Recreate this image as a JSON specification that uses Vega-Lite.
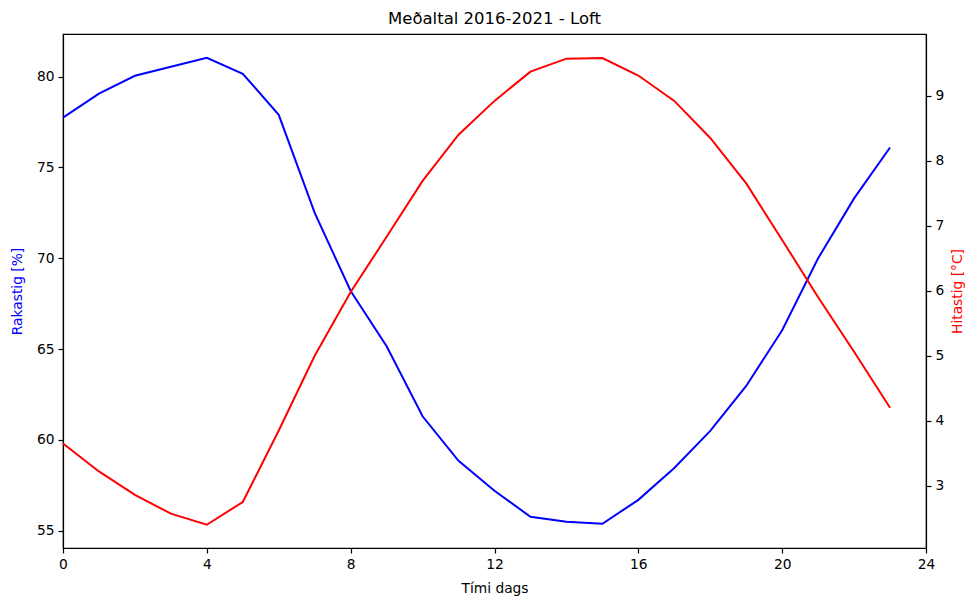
{
  "$schema": "https://vega.github.io/schema/vega-lite/v6.json",
  "width": 863,
  "height": 514,
  "autosize": {"type": "none"},
  "padding": {"left": 63, "top": 34, "right": 42, "bottom": 53},
  "background": "white",
  "title": {"text": "Meðaltal 2016-2021 - Loft", "font": "DejaVu Sans", "fontSize": 16.5, "fontWeight": "normal", "color": "black", "offset": 7},
  "config": {
    "font": "DejaVu Sans",
    "view": {"stroke": "black", "strokeWidth": 1.2},
    "axis": {
      "grid": false,
      "domainColor": "black",
      "domainWidth": 1.2,
      "tickColor": "black",
      "tickSize": 5,
      "tickWidth": 1.2,
      "labelFont": "DejaVu Sans",
      "labelFontSize": 13.8,
      "labelColor": "black",
      "labelPadding": 4,
      "labelFlush": false,
      "titleFont": "DejaVu Sans",
      "titleFontSize": 13.8,
      "titleFontWeight": "normal"
    }
  },
  "data": {
    "values": [
      {"hour": 0, "rh": 77.75, "t": 3.65},
      {"hour": 1, "rh": 79.07, "t": 3.22},
      {"hour": 2, "rh": 80.05, "t": 2.86},
      {"hour": 3, "rh": 80.55, "t": 2.57},
      {"hour": 4, "rh": 81.04, "t": 2.40},
      {"hour": 5, "rh": 80.16, "t": 2.75},
      {"hour": 6, "rh": 77.9, "t": 3.85},
      {"hour": 7, "rh": 72.5, "t": 5.0},
      {"hour": 8, "rh": 68.2, "t": 5.98},
      {"hour": 9, "rh": 65.16, "t": 6.83},
      {"hour": 10, "rh": 61.3, "t": 7.69},
      {"hour": 11, "rh": 58.85, "t": 8.4},
      {"hour": 12, "rh": 57.2, "t": 8.92},
      {"hour": 13, "rh": 55.77, "t": 9.37},
      {"hour": 14, "rh": 55.5, "t": 9.57},
      {"hour": 15, "rh": 55.38, "t": 9.58},
      {"hour": 16, "rh": 56.7, "t": 9.31},
      {"hour": 17, "rh": 58.46, "t": 8.92},
      {"hour": 18, "rh": 60.5, "t": 8.35},
      {"hour": 19, "rh": 62.97, "t": 7.65},
      {"hour": 20, "rh": 66.04, "t": 6.78},
      {"hour": 21, "rh": 70.0, "t": 5.9},
      {"hour": 22, "rh": 73.3, "t": 5.06},
      {"hour": 23, "rh": 76.1, "t": 4.2}
    ]
  },
  "encoding": {
    "x": {
      "field": "hour",
      "type": "quantitative",
      "scale": {"domain": [0, 24], "nice": false, "zero": false},
      "axis": {"values": [0, 4, 8, 12, 16, 20, 24], "title": "Tími dags", "titleColor": "black", "titlePadding": 11}
    }
  },
  "layer": [
    {
      "mark": {"type": "line", "color": "#0000ff", "strokeWidth": 2},
      "encoding": {
        "y": {
          "field": "rh",
          "type": "quantitative",
          "scale": {"domain": [54.05, 82.35], "nice": false, "zero": false},
          "axis": {"orient": "left", "values": [55, 60, 65, 70, 75, 80], "title": "Rakastig [%]", "titleColor": "#0000ff", "titlePadding": 12}
        }
      }
    },
    {
      "mark": {"type": "line", "color": "#ff0000", "strokeWidth": 2},
      "encoding": {
        "y": {
          "field": "t",
          "type": "quantitative",
          "scale": {"domain": [2.042, 9.949], "nice": false, "zero": false},
          "axis": {"orient": "right", "values": [3, 4, 5, 6, 7, 8, 9], "title": "Hitastig [°C]", "titleColor": "#ff0000", "titleAngle": 270, "titleBaseline": "bottom", "titlePadding": 21}
        }
      }
    }
  ],
  "resolve": {"scale": {"y": "independent"}}
}
